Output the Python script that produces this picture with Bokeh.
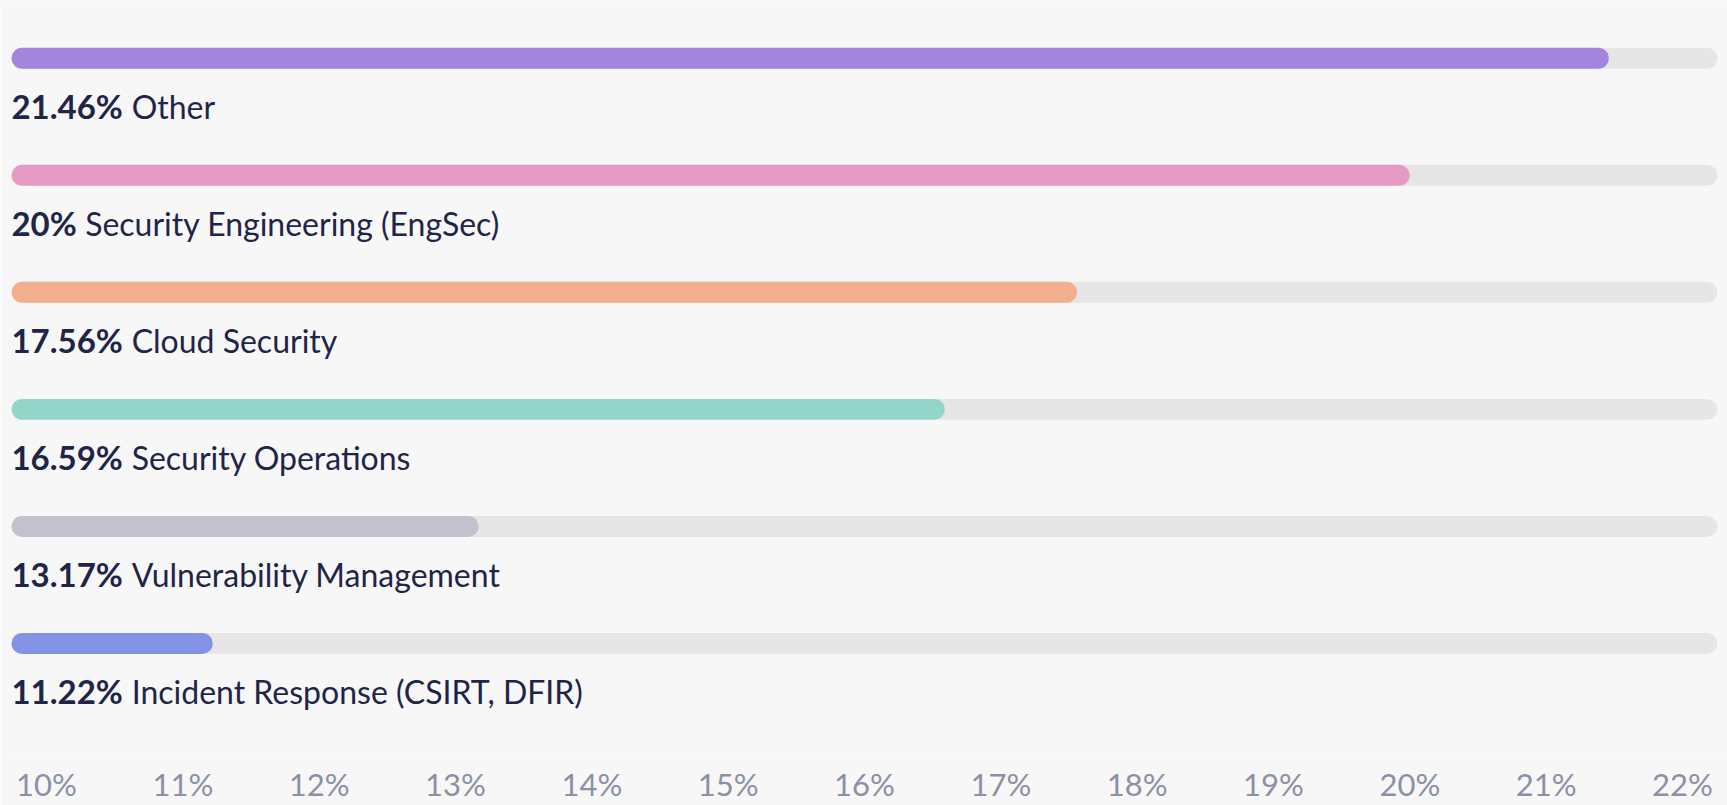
from bokeh.plotting import figure
from bokeh.models import Range1d, ColumnDataSource, FixedTicker, CustomJSTickFormatter
from bokeh.core.properties import value
from bokeh.embed import file_html
from bokeh.resources import INLINE

# ---- data ----
categories = ["Other", "Security Engineering (EngSec)", "Cloud Security",
              "Security Operations", "Vulnerability Management",
              "Incident Response (CSIRT, DFIR)"]
percent = [21.46, 20.0, 17.56, 16.59, 13.17, 11.22]
pct_labels = ["21.46%", "20%", "17.56%", "16.59%", "13.17%", "11.22%"]
colors = ["#A385DE", "#E79AC3", "#F3B08F", "#93D6C9", "#C3C1CD", "#8394E6"]
tick_values = list(range(10, 23))

# ---- layout constants ----
W, H = 1727, 805
X_START, X_END = 9.6626, 22.330
TRACK_START, TRACK_END = 9.743, 22.257
Y_TOP, Y_BOTTOM = -0.4936, 5.966
FONT = "Lato"
FS_BOLD = 33
FS_NAME = 32

ys = list(range(len(categories)))

# approximate bold text widths (em) to place the name after the bold value
em_w = {c: 0.58 for c in "0123456789"}
em_w.update({".": 0.25, "%": 0.77})
offsets = [sum(em_w.get(c, 0.6) for c in s) * FS_BOLD + 10 for s in pct_labels]

src = ColumnDataSource(dict(
    y=ys, pct=percent, color=colors, label=pct_labels, name=categories,
    left=[TRACK_START] * len(ys), right_track=[TRACK_END] * len(ys),
    off=offsets,
))

p = figure(width=W, height=H, output_backend="svg", toolbar_location=None,
           x_range=Range1d(X_START, X_END), y_range=Range1d(Y_BOTTOM, Y_TOP),
           min_border_left=0, min_border_right=0, min_border_top=0,
           min_border_bottom=0)
p.background_fill_color = "#F7F7F7"
p.border_fill_color = "#F7F7F7"
p.outline_line_color = None
p.grid.visible = False
p.yaxis.visible = False

BAR_H = 0.179
# tracks
p.hbar(y="y", left="left", right="right_track", height=BAR_H, source=src,
       fill_color="#E6E6E6", line_color=None, border_radius=11)
# bars
p.hbar(y="y", left="left", right="pct", height=BAR_H, source=src,
       fill_color="color", line_color=None, border_radius=11)

# labels
p.text(x="left", y="y", text="label", source=src, y_offset=48, x_offset=0,
       text_font=value(FONT), text_font_style="bold", text_font_size=f"{FS_BOLD}px",
       text_color="#1F2547", text_baseline="middle", text_align="left")
p.text(x="left", y="y", text="name", source=src, y_offset=48, x_offset="off",
       text_font=value(FONT), text_font_size=f"{FS_NAME}px",
       text_color="#1F2547", text_baseline="middle", text_align="left")

ax = p.xaxis[0]
ax.ticker = FixedTicker(ticks=tick_values)
ax.formatter = CustomJSTickFormatter(code="return tick + '%';")
ax.axis_line_color = None
ax.major_tick_line_color = None
ax.minor_tick_line_color = None
ax.major_tick_out = 0
ax.major_tick_in = 0
ax.minor_tick_out = 0
ax.major_label_text_font = FONT
ax.major_label_text_font_size = "31px"
ax.major_label_text_color = "#8C90A6"
ax.major_label_standoff = 8

open("out.html", "w").write(file_html(p, INLINE))
